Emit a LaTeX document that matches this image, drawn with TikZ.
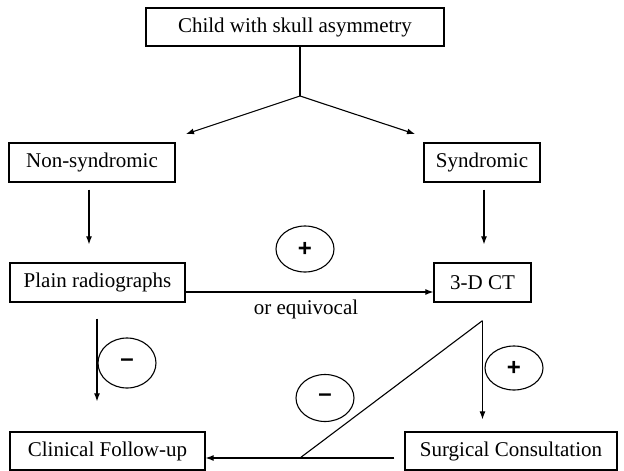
\documentclass[tikz,border=0pt]{standalone}
\usepackage{fontspec}
\setmainfont{Liberation Serif}
\setsansfont{Liberation Sans}
\usetikzlibrary{shapes.geometric,arrows.meta}

\begin{document}
\begin{tikzpicture}[
    x=1pt, y=-1pt,
    box/.style={draw, line width=1.3pt, inner sep=0pt, minimum height=39pt, font=\fontsize{21}{25}\selectfont},
    sign/.style={draw, ellipse, line width=1.1pt, inner sep=0pt, minimum width=58pt, minimum height=46pt, font=\fontsize{24}{26}\selectfont\sffamily\bfseries},
    link/.style={line width=1.1pt},
    arr/.style={link, -{Latex[length=8pt,width=6pt]}}
]
    \useasboundingbox (0,0) rectangle (624,471);

    % --- Top ---
    \node[box, minimum width=298pt, minimum height=38pt] (child) at (295,27) {Child with skull asymmetry};
    \coordinate (split) at (300,96);
    \coordinate (nsTip) at (186,134);
    \coordinate (synTip) at (415,134);
    \draw[link] (child.south -| split) -- (split);
    \draw[arr] (split) -- (nsTip);
    \draw[arr] (split) -- (synTip);

    % --- Second row ---
    \node[box, minimum width=166pt] (nonsyn) at (92,162.5) {Non-syndromic};
    \node[box, minimum width=116pt] (syn) at (482,162.5) {Syndromic};

    % --- Imaging ---
    \node[box, minimum width=175pt] (plain) at (97.5,282.5) {Plain radiographs};
    \node[box, minimum width=97pt] (ct) at (482.5,282.5) {3-D CT};
    \draw[arr] ([shift={(-3,7)}]nonsyn.south) -- ([shift={(-8.5,-18)}]plain.north);
    \draw[arr] ([shift={(2,7)}]syn.south) -- ([shift={(1.5,-18)}]ct.north);
    \draw[arr] ([shift={(0,9.5)}]plain.east) -- ([shift={(0,9.5)}]ct.west);
    \node[sign] (plusA) at (305,249) {+};
    \node[font=\fontsize{21}{25}\selectfont] (equiv) at (306,309) {or equivocal};

    % --- Outcomes ---
    \node[box, minimum width=195pt, minimum height=38pt] (clin) at (107.5,451) {Clinical Follow-up};
    \node[box, minimum width=212pt, minimum height=38pt] (surg) at (511,451) {Surgical Consultation};
    \coordinate (ctOut) at ([shift={(0,18)}]ct.south);
    \coordinate (kink) at (300,458);
    \draw[arr] ([shift={(-0.5,16)}]plain.south) -- ([shift={(-10.5,-30)}]clin.north);
    \node[sign, minimum height=50pt] (minusA) at (127,363) {–};
    \draw[arr] (ctOut) -- ([shift={(-28.5,-12)}]surg.north);
    \node[sign, minimum height=44pt] (plusB) at (514,368) {+};
    \draw[link] (ctOut) -- (kink);
    \draw[arr] ([shift={(-10,7)}]surg.west) -- ([shift={(0,7)}]clin.east);
    \node[sign, minimum height=47pt] (minusB) at (325,398) {–};
\end{tikzpicture}
\end{document}
